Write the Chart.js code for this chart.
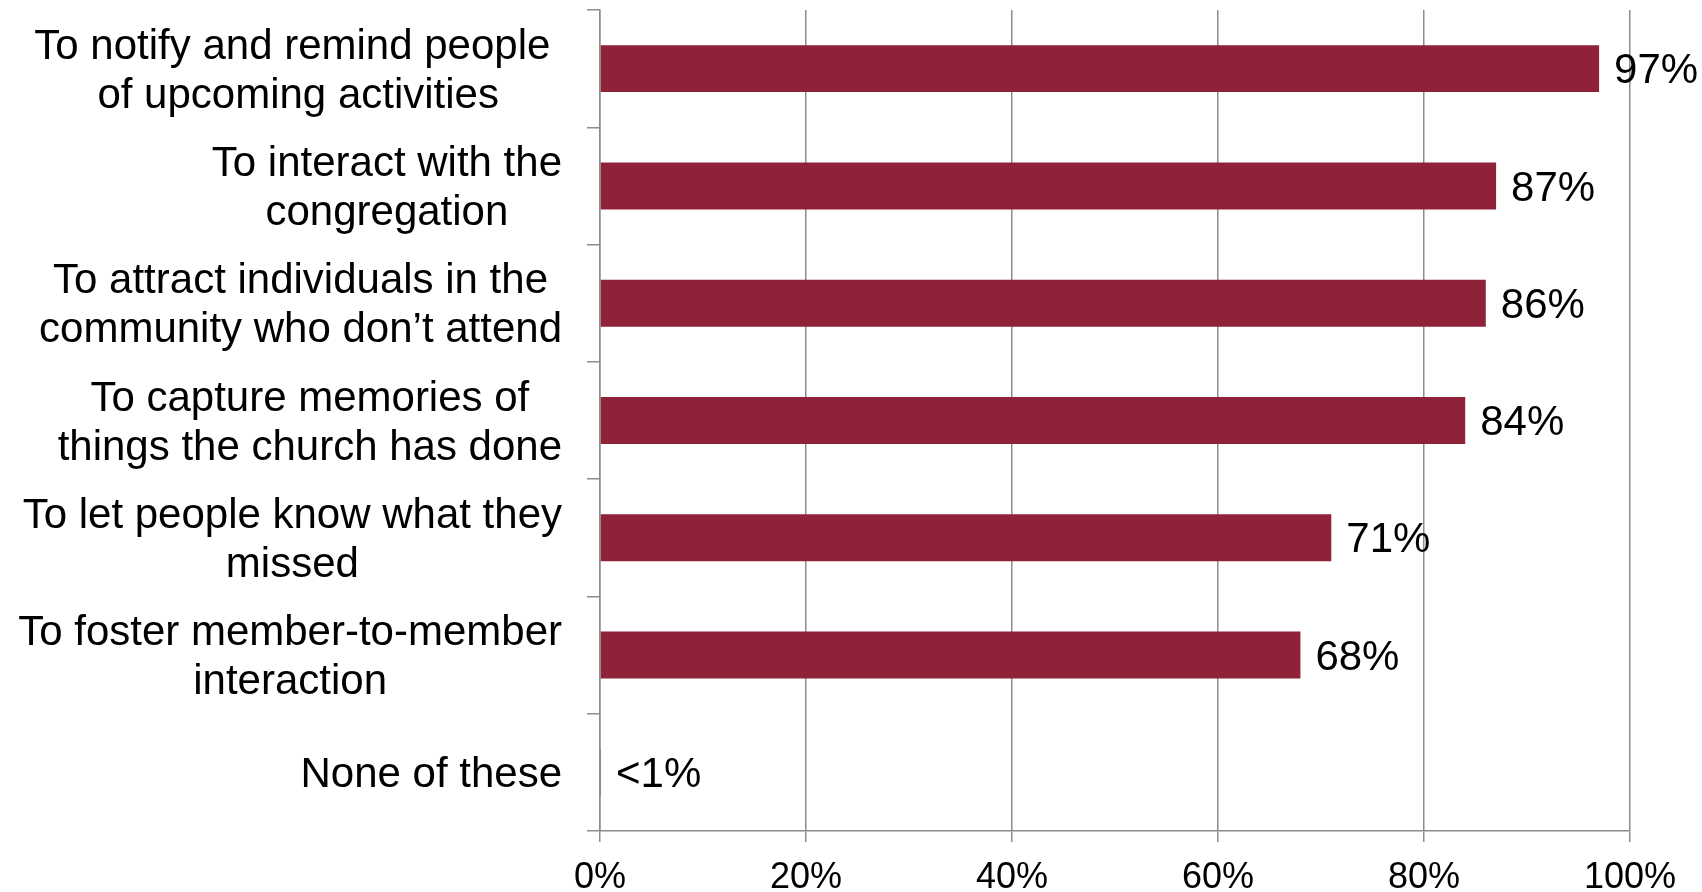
<!DOCTYPE html>
<html>
<head>
<meta charset="utf-8">
<script src="https://cdn.jsdelivr.net/npm/chart.js@4.4.1/dist/chart.umd.min.js"></script>
<style>
  html, body { margin: 0; padding: 0; background: #fff; }
  #wrap { width: 1702px; height: 892px; position: relative; }
</style>
</head>
<body>
<div id="wrap"><canvas id="usesChart"></canvas></div>
<script>
// reasons for using social media, share of respondents
const categories = [
  ['To notify and remind people ', 'of upcoming activities'],
  ['To interact with the', 'congregation'],
  ['To attract individuals in the', 'community who don\u2019t attend'],
  ['To capture memories of', 'things the church has done'],
  ['To let people know what they', 'missed'],
  ['To foster member-to-member', 'interaction'],
  ['None of these']
];
const shares = [97, 87, 86, 84, 71, 68, 0.1];
const xTicks = [0, 20, 40, 60, 80, 100];

const FONT = '"Liberation Sans", Arial, Helvetica, sans-serif';
const gridGrey = '#8c8c8c';
const barRed = '#8F2239';

const fmtShare = v => (v < 1 ? '<1%' : v + '%');

// category labels: each block right aligned, lines centred inside the block
const categoryLabels = {
  id: 'categoryLabels',
  afterDraw(chart) {
    const ctx = chart.ctx;
    const y = chart.scales.y;
    const right = chart.chartArea.left - 38;
    const lineH = 49;
    ctx.save();
    ctx.font = '42px ' + FONT;
    ctx.fillStyle = '#000';
    ctx.textAlign = 'center';
    ctx.textBaseline = 'middle';
    categories.forEach((lines, i) => {
      const cy = y.getPixelForValue(i) + 3;
      const w = Math.max(...lines.map(l => ctx.measureText(l).width));
      const cx = right - w / 2;
      const top = cy - (lines.length - 1) * lineH / 2;
      lines.forEach((l, k) => ctx.fillText(l, cx, top + k * lineH));
    });
    ctx.restore();
  }
};

// value labels to the right of each bar
const valueLabels = {
  id: 'valueLabels',
  afterDatasetsDraw(chart) {
    const ctx = chart.ctx;
    const meta = chart.getDatasetMeta(0);
    ctx.save();
    ctx.font = '42px ' + FONT;
    ctx.fillStyle = '#000';
    ctx.textAlign = 'left';
    ctx.textBaseline = 'middle';
    meta.data.forEach((bar, i) => {
      ctx.fillText(fmtShare(shares[i]), bar.x + 15, bar.y + 3);
    });
    ctx.restore();
  }
};

new Chart(document.getElementById('usesChart'), {
  type: 'bar',
  data: {
    labels: categories.map(c => c.join(' ')),
    datasets: [{
      data: shares,
      backgroundColor: barRed,
      borderWidth: 0,
      categoryPercentage: 1,
      barPercentage: 0.4
    }]
  },
  options: {
    indexAxis: 'y',
    responsive: true,
    maintainAspectRatio: false,
    animation: false,
    layout: { padding: { top: 10, right: 72, bottom: 0, left: 0 } },
    plugins: {
      legend: { display: false },
      tooltip: { enabled: false }
    },
    scales: {
      x: {
        min: 0,
        max: 100,
        afterBuildTicks: scale => { scale.ticks = xTicks.map(v => ({ value: v })); },
        afterFit: scale => { scale.height = 61; },
        grid: { color: gridGrey, lineWidth: 1.5, tickLength: 11 },
        border: { color: gridGrey, width: 1.5 },
        ticks: {
          padding: 14,
          color: '#000',
          font: { family: FONT, size: 36 },
          callback: v => v + '%',
          maxRotation: 0
        }
      },
      y: {
        type: 'category',
        afterFit: scale => { scale.width = 600; },
        grid: {
          drawOnChartArea: false,
          offset: true,
          color: gridGrey,
          lineWidth: 1.5,
          tickLength: 13
        },
        border: { color: gridGrey, width: 1.5 },
        ticks: { display: false }
      }
    }
  },
  plugins: [categoryLabels, valueLabels]
});
</script>
</body>
</html>
